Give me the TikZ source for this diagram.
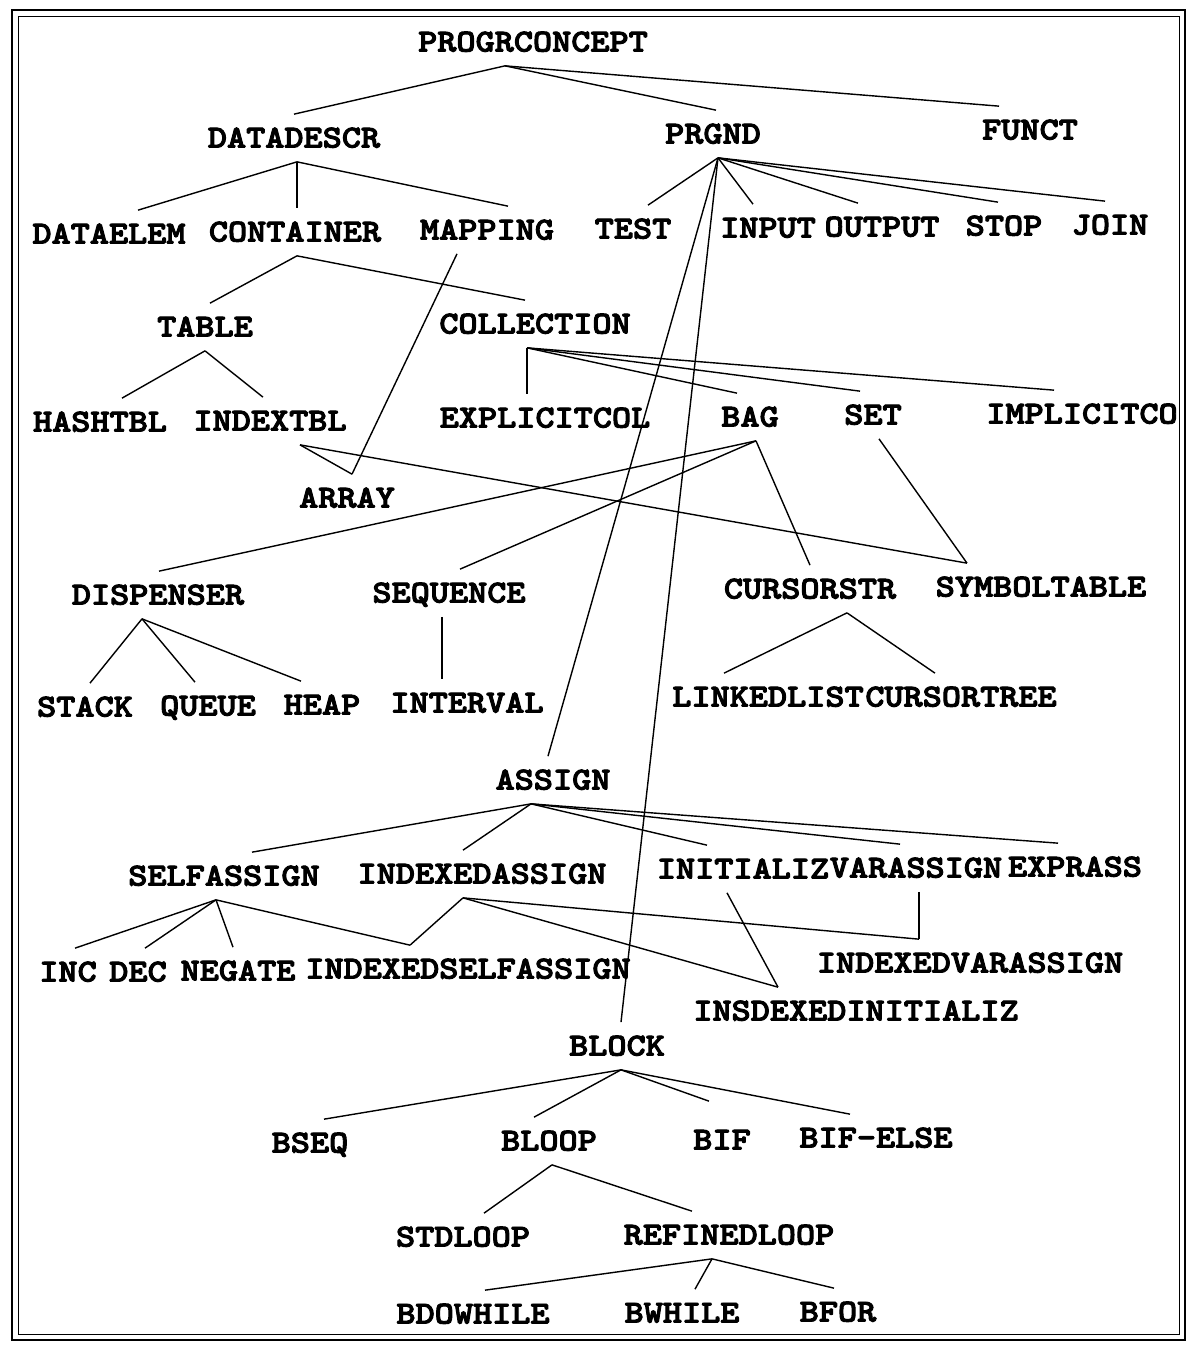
\documentclass[tikz,border=0pt]{standalone}
\usepackage{fontspec}
\newfontfamily\treefont{lmmonolt10-bold.otf}[FakeStretch=1.14, FakeBold=3]
\usetikzlibrary{calc}
\tikzset{
    concept/.style={font=\treefont\fontsize{18.2}{20}\selectfont,
        inner xsep=0pt, inner ysep=0.28cm, text height=0.38cm, text depth=0pt},
    link/.style={line width=0.8pt, black},
    frame/.style={line width=1.6pt}
}

\begin{document}
\begin{tikzpicture}[x=0.02cm, y=-0.02cm]
    \useasboundingbox (0,0) rectangle (1191,1345);
    % Frame
    \draw[frame] (12,10) rectangle (1185,1340);
    \draw[thin] (18,16) rectangle (1179,1334);

    % Upper levels
    \node[concept] (progr) at (533,42) {PROGRCONCEPT};
    \node[concept] (datadescr) at (294,138) {DATADESCR};
    \node[concept] (prgnd) at (713,134) {PRGND};
    \node[concept] (funct) at (1030,130) {FUNCT};
    \node[concept] (dataelem) at (109,234) {DATAELEM};
    \node[concept] (container) at (295,232) {CONTAINER};
    \node[concept] (mapping) at (487,230) {MAPPING};
    \node[concept] (test) at (633,229) {TEST};
    \node[concept] (input) at (768,228) {INPUT};
    \node[concept] (output) at (882,227) {OUTPUT};
    \node[concept] (stop) at (1004,226) {STOP};
    \node[concept] (join) at (1110,225) {JOIN};

    % Data structures
    \node[concept] (table) at (205,327) {TABLE};
    \node[concept] (collection) at (535,324) {COLLECTION};
    \node[concept] (hashtbl) at (100,422) {HASHTBL};
    \node[concept] (indextbl) at (270,421) {INDEXTBL};
    \node[concept] (explicitcol) at (545,418) {EXPLICITCOL};
    \node[concept] (bag) at (750,417) {BAG};
    \node[concept] (set) at (873,415) {SET};
    \node[concept] (implicitco) at (1082,414) {IMPLICITCO};
    \node[concept] (array) at (347,498) {ARRAY};
    \node[concept] (dispenser) at (158,595) {DISPENSER};
    \node[concept] (sequence) at (449,593) {SEQUENCE};
    \node[concept] (cursorstr) at (810,589) {CURSORSTR};
    \node[concept] (symboltable) at (1041,587) {SYMBOLTABLE};
    \node[concept] (stack) at (85,707) {STACK};
    \node[concept] (queue) at (208,706) {QUEUE};
    \node[concept] (heap) at (322,705) {HEAP};
    \node[concept] (interval) at (467,703) {INTERVAL};
    \node[concept] (linkedlist) at (768,697) {LINKEDLIST};
    \node[concept] (cursortree) at (961,697) {CURSORTREE};

    % Assignments
    \node[concept] (assign) at (553,780) {ASSIGN};
    \node[concept] (selfassign) at (224,876) {SELFASSIGN};
    \node[concept] (indexedassign) at (482,874) {INDEXEDASSIGN};
    \node[concept] (initializ) at (743,869) {INITIALIZ};
    \node[concept] (varassign) at (916,868) {VARASSIGN};
    \node[concept] (exprass) at (1075,867) {EXPRASS};
    \node[concept] (inc) at (68,972) {INC};
    \node[concept] (dec) at (138,972) {DEC};
    \node[concept] (negate) at (238,971) {NEGATE};
    \node[concept] (indexedselfassign) at (468,969) {INDEXEDSELFASSIGN};
    \node[concept] (indexedvarassign) at (970,963) {INDEXEDVARASSIGN};
    \node[concept] (insdexedinitializ) at (856,1011) {INSDEXEDINITIALIZ};

    % Blocks
    \node[concept] (block) at (617,1046) {BLOCK};
    \node[concept] (bseq) at (310,1143) {BSEQ};
    \node[concept] (bloop) at (549,1141) {BLOOP};
    \node[concept] (bif) at (722,1140) {BIF};
    \node[concept] (bifelse) at (876,1138) {BIF-ELSE};
    \node[concept] (stdloop) at (463,1237) {STDLOOP};
    \node[concept] (refinedloop) at (729,1235) {REFINEDLOOP};
    \node[concept] (bdowhile) at (473,1314) {BDOWHILE};
    \node[concept] (bwhile) at (682,1313) {BWHILE};
    \node[concept] (bfor) at (838,1312) {BFOR};

    % Links: top
    \draw[link] ($(progr.south)+(-28,0)$) -- (datadescr.north);
    \draw[link] ($(progr.south)+(-28,0)$) -- ($(prgnd.north)+(3,0)$);
    \draw[link] ($(progr.south)+(-28,0)$) -- ($(funct.north)+(-31,0)$);
    \draw[link] ($(datadescr.south)+(3,0)$) -- ($(dataelem.north)+(29,0)$);
    \draw[link] ($(datadescr.south)+(3,0)$) -- ($(container.north)+(2,0)$);
    \draw[link] ($(datadescr.south)+(3,0)$) -- ($(mapping.north)+(21,0)$);
    \draw[link] ($(prgnd.south)+(5,0)$) -- ($(test.north)+(15,0)$);
    \draw[link] ($(prgnd.south)+(5,0)$) -- ($(input.north)+(-15,0)$);
    \draw[link] ($(prgnd.south)+(5,0)$) -- ($(output.north)+(-24,0)$);
    \draw[link] ($(prgnd.south)+(5,0)$) -- ($(stop.north)+(-6,0)$);
    \draw[link] ($(prgnd.south)+(5,0)$) -- ($(join.north)+(-5,0)$);
    \draw[link] ($(prgnd.south)+(5,0)$) -- ($(assign.north)+(-5,0)$);
    \draw[link] ($(prgnd.south)+(5,0)$) -- ($(block.north)+(4,0)$);

    % Links: data structures
    \draw[link] ($(container.south)+(2,0)$) -- ($(table.north)+(5,0)$);
    \draw[link] ($(container.south)+(2,0)$) -- ($(collection.north)+(-10,0)$);
    \draw[link] ($(mapping.south)+(-30,0)$) -- ($(array.north)+(5,0)$);
    \draw[link] (table.south) -- ($(hashtbl.north)+(22,0)$);
    \draw[link] (table.south) -- ($(indextbl.north)+(-7,0)$);
    \draw[link] ($(collection.south)+(-8,0)$) -- ($(explicitcol.north)+(-18,0)$);
    \draw[link] ($(collection.south)+(-8,0)$) -- ($(bag.north)+(-13,0)$);
    \draw[link] ($(collection.south)+(-8,0)$) -- ($(set.north)+(-13,0)$);
    \draw[link] ($(collection.south)+(-8,0)$) -- ($(implicitco.north)+(-28,0)$);
    \draw[link] ($(indextbl.south)+(30,0)$) -- ($(array.north)+(5,0)$);
    \draw[link] ($(indextbl.south)+(30,0)$) -- ($(symboltable.north)+(-74,0)$);
    \draw[link] ($(bag.south)+(6,0)$) -- ($(dispenser.north)+(1,0)$);
    \draw[link] ($(bag.south)+(6,0)$) -- ($(sequence.north)+(11,0)$);
    \draw[link] ($(bag.south)+(6,0)$) -- (cursorstr.north);
    \draw[link] ($(set.south)+(6,0)$) -- ($(symboltable.north)+(-74,0)$);
    \draw[link] ($(dispenser.south)+(-16,0)$) -- ($(stack.north)+(5,0)$);
    \draw[link] ($(dispenser.south)+(-16,0)$) -- ($(queue.north)+(-13,0)$);
    \draw[link] ($(dispenser.south)+(-16,0)$) -- ($(heap.north)+(-21,0)$);
    \draw[link] ($(sequence.south)+(-7,0)$) -- ($(interval.north)+(-25,0)$);
    \draw[link] ($(cursorstr.south)+(37,0)$) -- ($(linkedlist.north)+(-44,0)$);
    \draw[link] ($(cursorstr.south)+(37,0)$) -- ($(cursortree.north)+(-26,0)$);

    % Links: assignments
    \draw[link] ($(assign.south)+(-22,0)$) -- ($(selfassign.north)+(28,0)$);
    \draw[link] ($(assign.south)+(-22,0)$) -- ($(indexedassign.north)+(-19,0)$);
    \draw[link] ($(assign.south)+(-22,0)$) -- ($(initializ.north)+(-36,0)$);
    \draw[link] ($(assign.south)+(-22,0)$) -- ($(varassign.north)+(-16,0)$);
    \draw[link] ($(assign.south)+(-22,0)$) -- ($(exprass.north)+(-17,0)$);
    \draw[link] ($(selfassign.south)+(-8,0)$) -- ($(inc.north)+(7,0)$);
    \draw[link] ($(selfassign.south)+(-8,0)$) -- ($(dec.north)+(7,0)$);
    \draw[link] ($(selfassign.south)+(-8,0)$) -- ($(negate.north)+(-5,0)$);
    \draw[link] ($(selfassign.south)+(-8,0)$) -- ($(indexedselfassign.north)+(-58,0)$);
    \draw[link] ($(indexedassign.south)+(-19,0)$) -- ($(indexedselfassign.north)+(-58,0)$);
    \draw[link] ($(indexedassign.south)+(-19,0)$) -- ($(indexedvarassign.north)+(-51,0)$);
    \draw[link] ($(indexedassign.south)+(-19,0)$) -- ($(insdexedinitializ.north)+(-78,0)$);
    \draw[link] ($(initializ.south)+(-16,0)$) -- ($(insdexedinitializ.north)+(-78,0)$);
    \draw[link] ($(varassign.south)+(3,0)$) -- ($(indexedvarassign.north)+(-51,0)$);

    % Links: blocks
    \draw[link] ($(block.south)+(4,0)$) -- ($(bseq.north)+(14,0)$);
    \draw[link] ($(block.south)+(4,0)$) -- ($(bloop.north)+(-15,0)$);
    \draw[link] ($(block.south)+(4,0)$) -- ($(bif.north)+(-13,-15)$);
    \draw[link] ($(block.south)+(4,0)$) -- ($(bifelse.north)+(-26,0)$);
    \draw[link] ($(bloop.south)+(3,0)$) -- ($(stdloop.north)+(21,0)$);
    \draw[link] ($(bloop.south)+(3,0)$) -- ($(refinedloop.north)+(-37,0)$);
    \draw[link] ($(refinedloop.south)+(-17,0)$) -- ($(bdowhile.north)+(12,0)$);
    \draw[link] ($(refinedloop.south)+(-17,0)$) -- ($(bwhile.north)+(13,0)$);
    \draw[link] ($(refinedloop.south)+(-17,0)$) -- ($(bfor.north)+(-4,0)$);
\end{tikzpicture}
\end{document}
